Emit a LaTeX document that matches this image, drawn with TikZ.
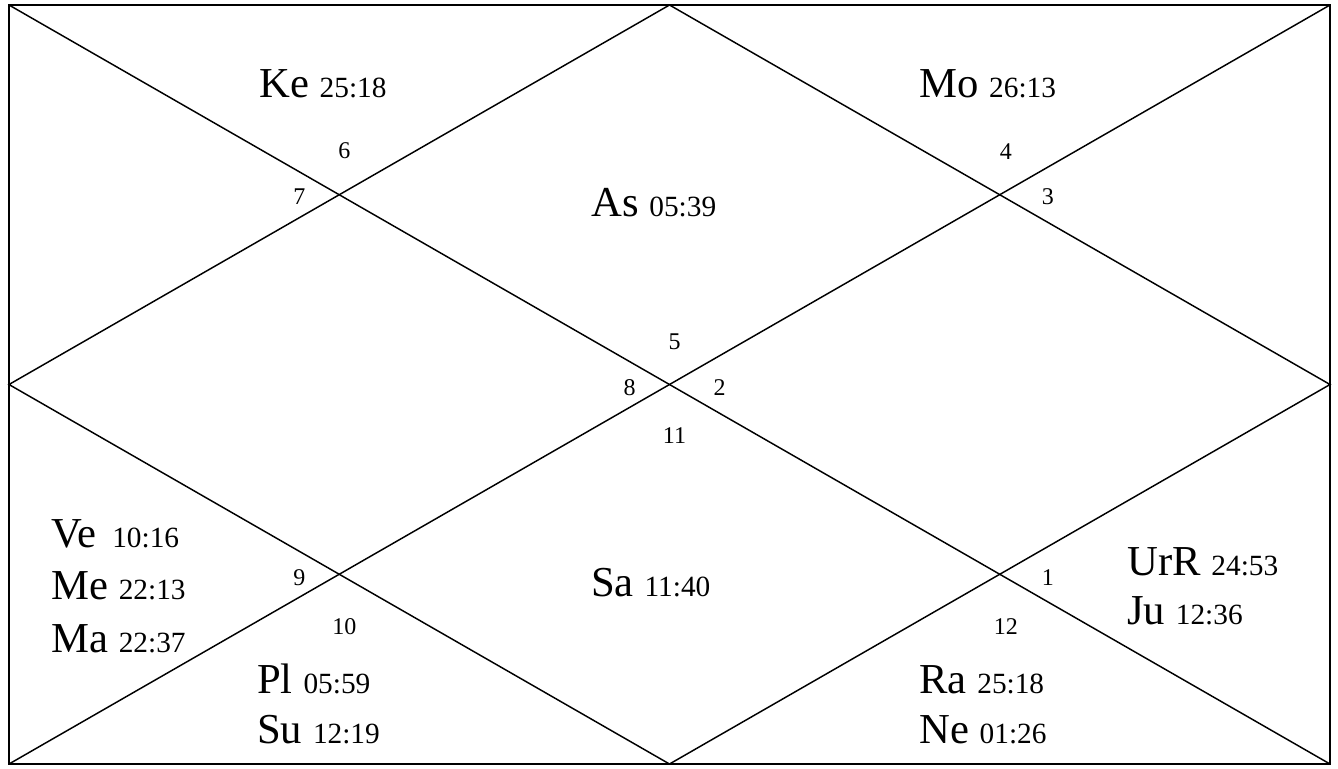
\documentclass[tikz,border=0pt]{standalone}
\usepackage{fontspec}
\setmainfont{Liberation Serif}
\usetikzlibrary{calc}
\newcommand{\grah}[2]{{\fontsize{32}{32}\selectfont #1\ }{\fontsize{22}{22}\selectfont #2}}

\begin{document}
\begin{tikzpicture}[x=0.75pt, y=-0.75pt,
    cadre/.style={line width=1.8pt},
    trait/.style={line width=1.1pt},
    maison/.style={font=\fontsize{18}{18}\selectfont, inner sep=0pt},
    graha/.style={anchor=base west, inner sep=0pt}]
    \useasboundingbox (0,0) rectangle (1338,768);
    \coordinate (NW) at (9,5); \coordinate (NE) at (1330,5);
    \coordinate (SW) at (9,764); \coordinate (SE) at (1330,764);
    \coordinate (T) at ($(NW)!0.5!(NE)$); \coordinate (B) at ($(SW)!0.5!(SE)$);
    \coordinate (L) at ($(NW)!0.5!(SW)$); \coordinate (R) at ($(NE)!0.5!(SE)$);
    \coordinate (C) at ($(NW)!0.5!(SE)$);
    % croisements des diagonales et du losange
    \coordinate (XA) at ($(NW)!0.25!(SE)$); \coordinate (XB) at ($(NE)!0.25!(SW)$);
    \coordinate (XC) at ($(SW)!0.25!(NE)$); \coordinate (XD) at ($(SE)!0.25!(NW)$);
    \draw[trait] (NW) -- (SE); \draw[trait] (NE) -- (SW);
    \draw[trait] (T) -- (R) -- (B) -- (L) -- cycle;
    \draw[cadre] (NW) rectangle (SE);
    % numéros des maisons
    \node[maison] (h6) at ($(XA)+(5,-44)$) {6};
    \node[maison] (h7) at ($(XA)+(-40,2)$) {7};
    \node[maison] (h4) at ($(XB)+(6,-43)$) {4};
    \node[maison] (h3) at ($(XB)+(48,2)$) {3};
    \node[maison] (h5) at ($(C)+(5,-43)$) {5};
    \node[maison] (h8) at ($(C)+(-40,3)$) {8};
    \node[maison] (h2) at ($(C)+(50,3)$) {2};
    \node[maison] (h11) at ($(C)+(5,51)$) {11};
    \node[maison] (h9) at ($(XC)+(-40,3)$) {9};
    \node[maison] (h10) at ($(XC)+(5,52)$) {10};
    \node[maison] (h1) at ($(XD)+(48,3)$) {1};
    \node[maison] (h12) at ($(XD)+(6,52)$) {12};
    % planètes
    \node[graha] (ke) at (259,97) {\grah{Ke}{25:18}};
    \node[graha] (mo) at (919,97) {\grah{Mo}{26:13}};
    \node[graha] (as) at (591,216) {\grah{As}{05:39}};
    \node[graha] (sa) at (591,596) {\grah{Sa}{11:40}};
    \node[graha] (ve) at (51,547) {\grah{Ve\hspace{4pt}}{10:16}};
    \node[graha] (me) at (51,599) {\grah{Me}{22:13}};
    \node[graha] (ma) at (51,652) {\grah{Ma}{22:37}};
    \node[graha] (pl) at (257,693) {\grah{Pl}{05:59}};
    \node[graha] (su) at (257,743) {\grah{Su}{12:19}};
    \node[graha] (urr) at (1127,575) {\grah{UrR}{24:53}};
    \node[graha] (ju) at (1127,624) {\grah{Ju}{12:36}};
    \node[graha] (ra) at (919,693) {\grah{Ra}{25:18}};
    \node[graha] (ne) at (919,743) {\grah{Ne}{01:26}};
\end{tikzpicture}
\end{document}
